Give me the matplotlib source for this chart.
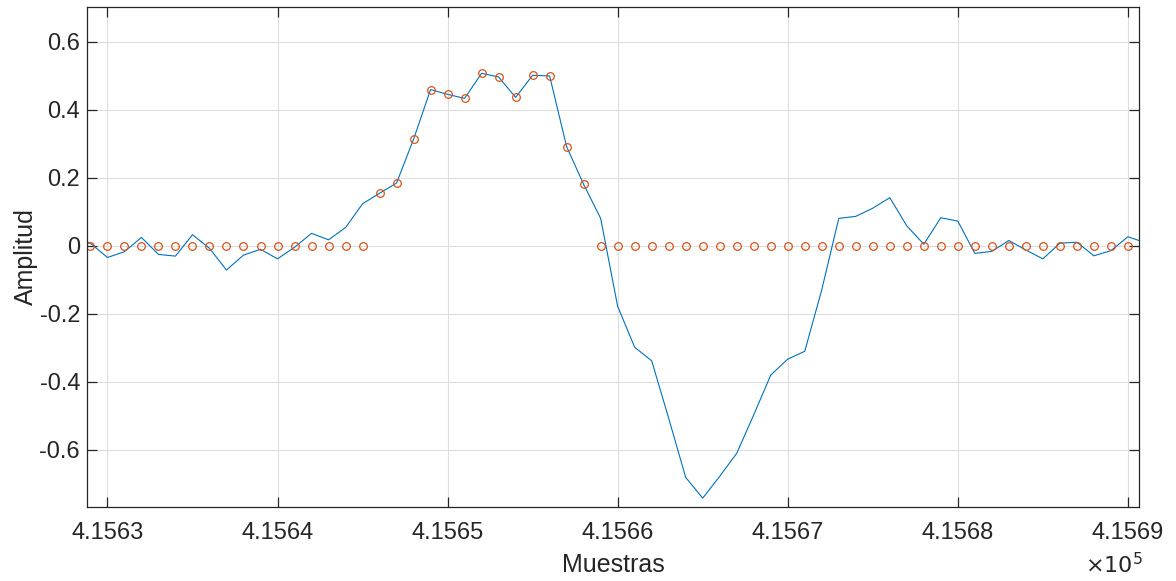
import numpy as np
import matplotlib
matplotlib.use("Agg")
import matplotlib.pyplot as plt

plt.rcParams['font.family'] = ['Liberation Sans', 'DejaVu Sans']

# Signal samples (sample index and amplitude)
start_sample = 415628
signal = [0.022, 0.008, -0.034, -0.017, 0.025, -0.025, -0.030, 0.033, -0.007,
          -0.071, -0.027, -0.010, -0.038, -0.004, 0.037, 0.018, 0.054, 0.124,
          0.155, 0.185, 0.314, 0.460, 0.446, 0.434, 0.508, 0.497, 0.437, 0.502,
          0.500, 0.292, 0.181, 0.081, -0.178, -0.298, -0.338, -0.507, -0.681,
          -0.742, -0.678, -0.610, -0.497, -0.380, -0.333, -0.310, -0.129, 0.081,
          0.087, 0.111, 0.142, 0.059, 0.005, 0.083, 0.073, -0.022, -0.016,
          0.016, -0.012, -0.038, 0.008, 0.011, -0.029, -0.014, 0.027, 0.010]
samples = np.arange(start_sample, start_sample + len(signal))

# Gated (windowed) samples: positive pulse kept, everything else zero
gate_start, gate_end = 415646, 415658
gated_samples = np.arange(415629, 415691)

x_ticks = [415630, 415640, 415650, 415660, 415670, 415680, 415690]
x_tick_labels = ['4.1563', '4.1564', '4.1565', '4.1566', '4.1567', '4.1568', '4.1569']
y_ticks = [-0.6, -0.4, -0.2, 0, 0.2, 0.4, 0.6]
y_tick_labels = ['-0.6', '-0.4', '-0.2', '0', '0.2', '0.4', '0.6']

sig = np.array(signal)
gated = np.array([sig[s - start_sample] if gate_start <= s <= gate_end else 0.0
                  for s in gated_samples])

fig = plt.figure(figsize=(11.76, 5.81), dpi=100)
ax = fig.add_axes([0.074, 0.1274, 0.8945, 0.8606])

ax.plot(samples, sig, color='#0072BD', lw=0.8)
ax.plot(gated_samples, gated, 'o', mfc='none', mec='#D95319', ms=5.5, mew=0.9)

ax.set_xlim(415628.8, 415690.65)
ax.set_ylim(-0.768, 0.703)
ax.set_xticks(x_ticks)
ax.set_xticklabels(x_tick_labels)
ax.set_yticks(y_ticks)
ax.set_yticklabels(y_tick_labels)

ax.grid(True, color='#dedede', lw=0.8)
ax.set_axisbelow(True)
for sp in ax.spines.values():
    sp.set_color('#262626')
    sp.set_linewidth(0.9)
ax.tick_params(direction='in', length=7, width=0.9, colors='#262626',
               labelsize=17, top=True, right=True)
ax.tick_params(axis='y', pad=5)
ax.tick_params(axis='x', pad=11)

ax.set_xlabel('Muestras', fontsize=18, color='#262626', labelpad=6)
ax.set_ylabel('Amplitud', fontsize=18, color='#262626', labelpad=1)
fig.text(0.9225, 0.005, r'$\times10^5$', fontsize=16, color='#262626',
         ha='left', va='bottom')

fig.savefig('out.png', dpi=100)
